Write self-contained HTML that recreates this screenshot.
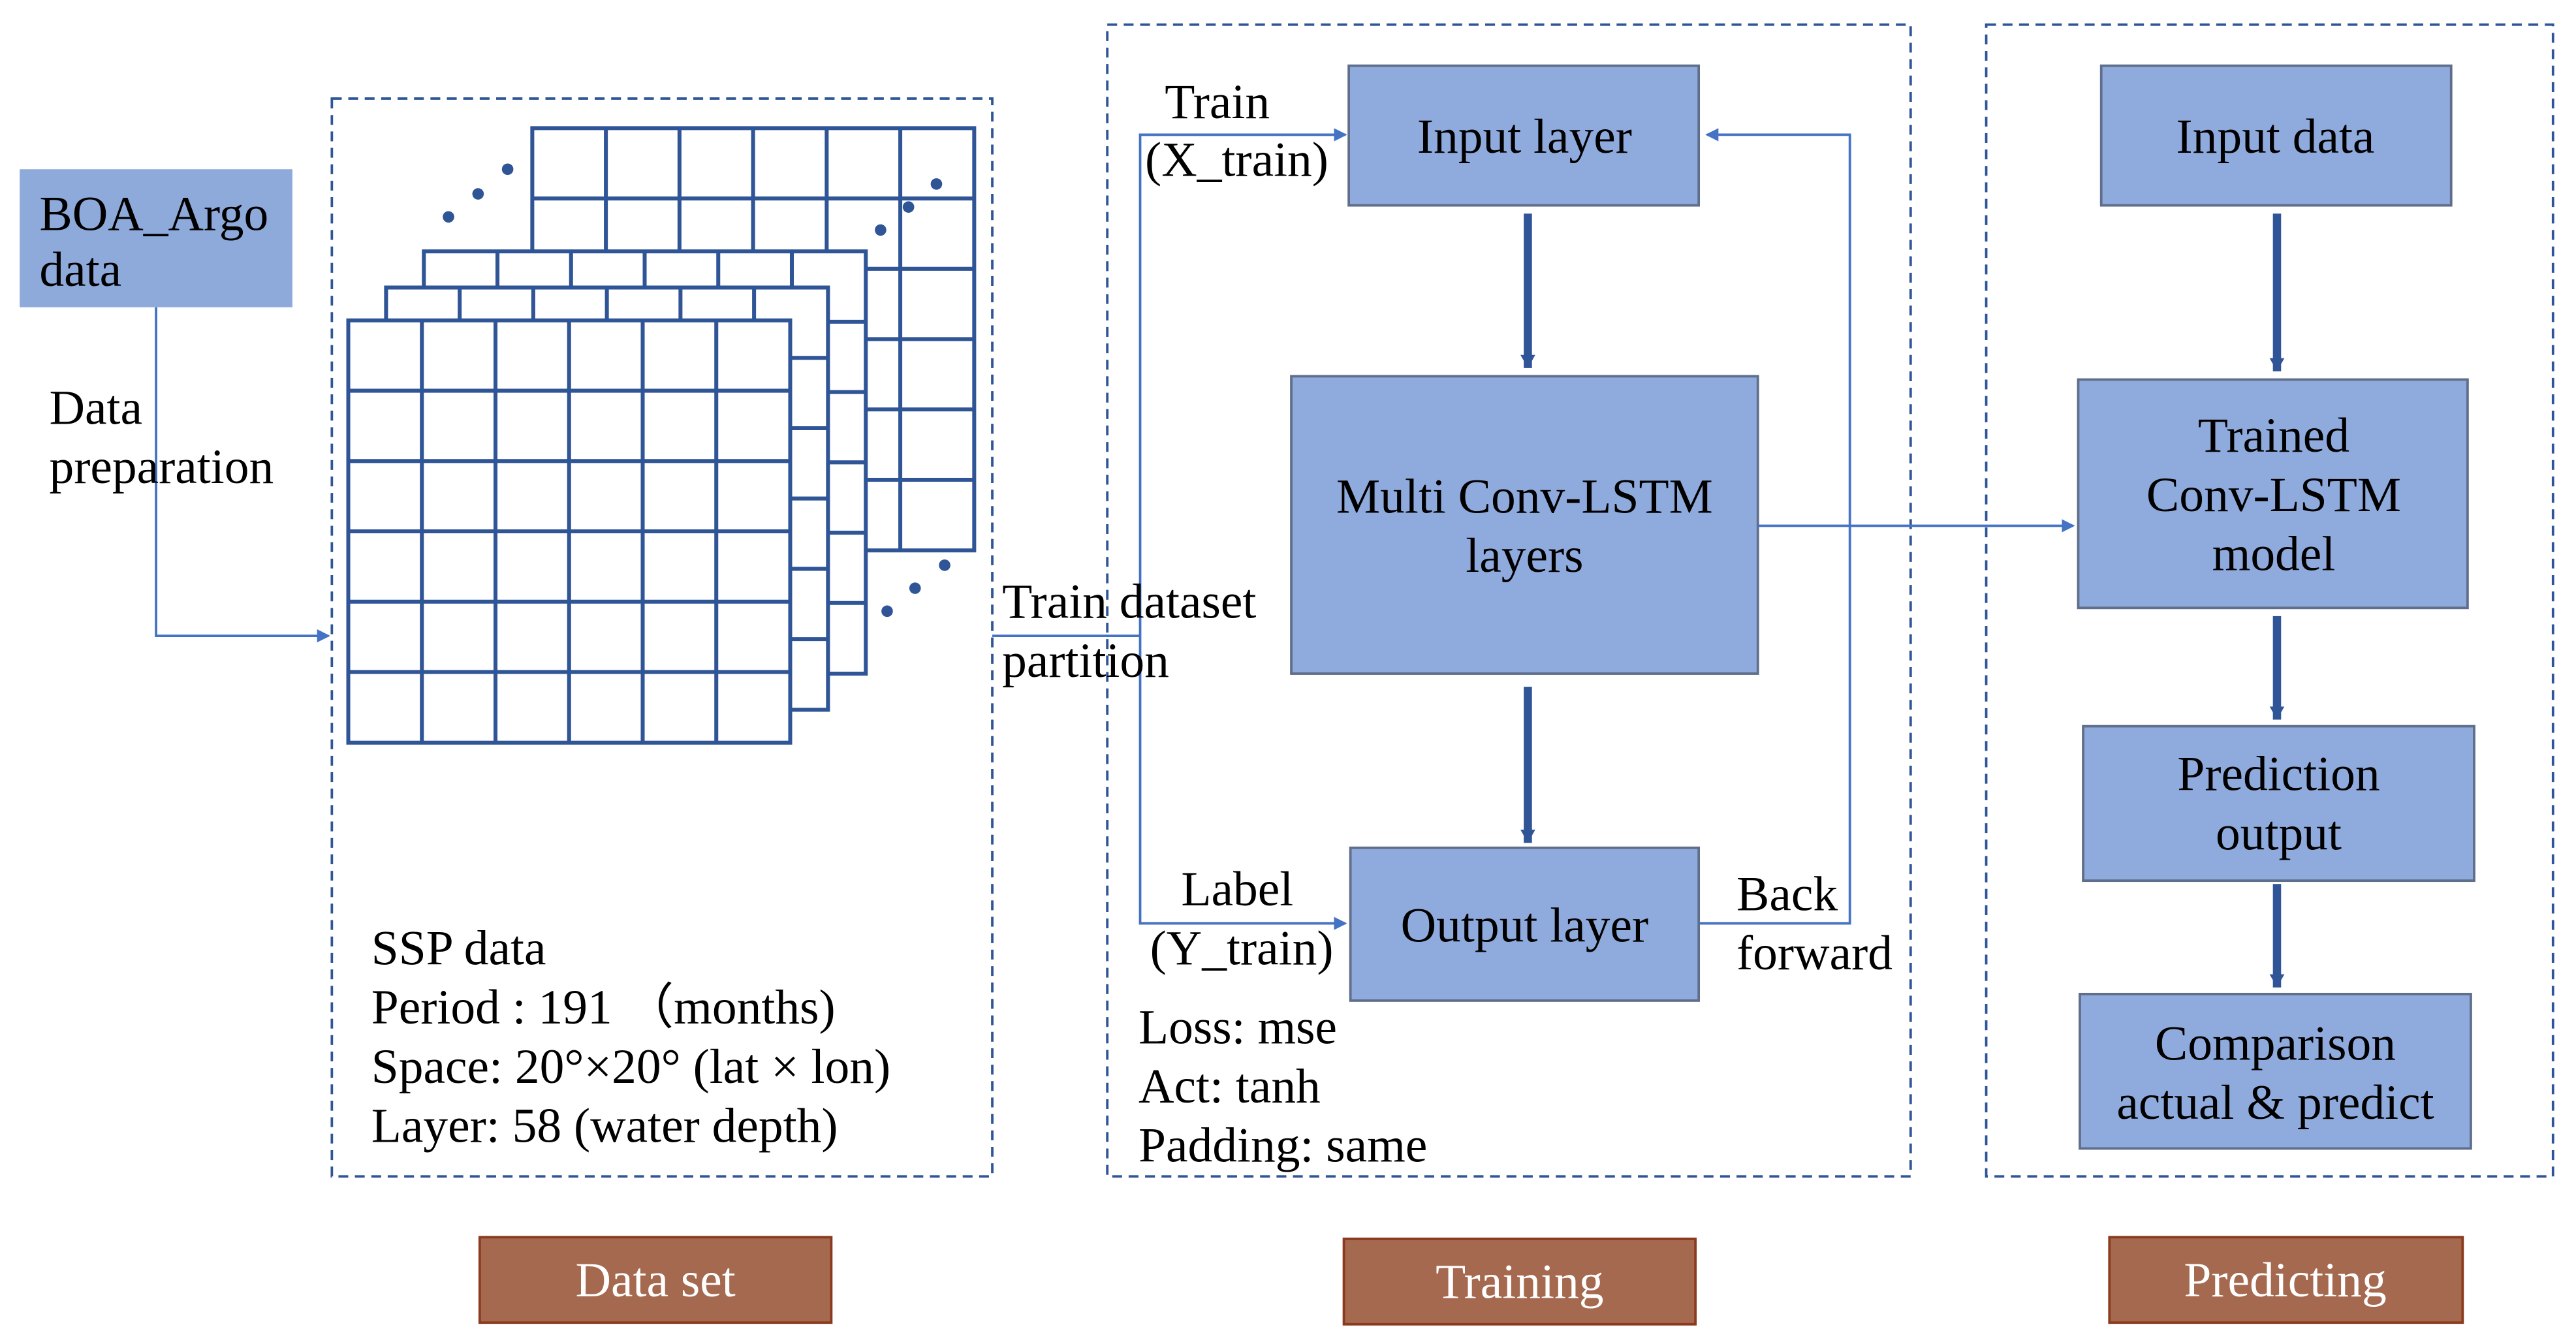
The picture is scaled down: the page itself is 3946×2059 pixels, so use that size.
<!DOCTYPE html>
<html><head><meta charset="utf-8"><style>
html,body{margin:0;padding:0;background:#fff;}
svg{display:block;}
text{font-family:"Liberation Serif",serif;font-size:30px;fill:#000;}
.c{text-anchor:middle;}
.w{fill:#fff;}
</style></head><body>
<svg width="3946" height="2059" viewBox="0 0 1568 818" preserveAspectRatio="none" xmlns="http://www.w3.org/2000/svg">
<defs>
<marker id="a" markerWidth="8" markerHeight="8" refX="7" refY="4" orient="auto" markerUnits="userSpaceOnUse"><path d="M0,0 L8,4 L0,8 z" fill="#4472C4"/></marker>
<marker id="t" markerWidth="10" markerHeight="10" refX="8" refY="5" orient="auto" markerUnits="userSpaceOnUse"><path d="M0,0.5 L8,5 L0,9.5 z" fill="#2F5597"/></marker>
<g id="grid">
<rect x="0" y="0" width="269" height="257" fill="#fff" stroke="#2F5597" stroke-width="2.4"/>
<path d="M44.8,0V257M89.6,0V257M134.4,0V257M179.2,0V257M224,0V257M0,42.8H269M0,85.6H269M0,128.4H269M0,171.2H269M0,214H269" stroke="#2F5597" stroke-width="2.4" fill="none"/>
</g>
</defs>
<g fill="none" stroke="#2F5597" stroke-width="1.5" stroke-dasharray="6 4">
<rect x="202" y="60" width="402" height="656"/>
<rect x="674" y="15" width="489" height="701"/>
<rect x="1209" y="15" width="345" height="701"/>
</g>
<rect x="12" y="103" width="166" height="84" fill="#8EAADB"/>
<text x="24" y="140">BOA_Argo</text>
<text x="24" y="174">data</text>
<path d="M95,187V387H200" stroke="#4472C4" stroke-width="1.5" fill="none" marker-end="url(#a)"/>
<text x="30" y="258">Data</text>
<text x="30" y="294">preparation</text>
<use href="#grid" x="324" y="78"/>
<use href="#grid" x="258" y="153"/>
<use href="#grid" x="235" y="175"/>
<use href="#grid" x="212" y="195"/>
<g fill="#2F5597">
<circle cx="273" cy="132" r="3.5"/><circle cx="291" cy="118" r="3.5"/><circle cx="309" cy="103" r="3.5"/>
<circle cx="536" cy="140" r="3.5"/><circle cx="553" cy="126" r="3.5"/><circle cx="570" cy="112" r="3.5"/>
<circle cx="540" cy="372" r="3.5"/><circle cx="557" cy="358" r="3.5"/><circle cx="575" cy="344" r="3.5"/>
</g>
<text x="226" y="587">SSP data</text>
<text x="226" y="623">Period : 191 （months)</text>
<text x="226" y="659">Space: 20°×20° (lat × lon)</text>
<text x="226" y="695">Layer: 58 (water depth)</text>
<path d="M604,387H694" stroke="#4472C4" stroke-width="1.5" fill="none"/>
<path d="M819,82H694V562H819" stroke="#4472C4" stroke-width="1.5" fill="none" marker-end="url(#a)"/>
<path d="M694,82H819" stroke="#4472C4" stroke-width="1.5" fill="none" marker-end="url(#a)"/>
<text x="610" y="376">Train dataset</text>
<text x="610" y="412">partition</text>
<text x="709" y="72">Train</text>
<text x="697" y="107">(X_train)</text>
<text x="719" y="551">Label</text>
<text x="700" y="587">(Y_train)</text>
<g fill="#8FAADC" stroke="#5F6E8A" stroke-width="1.5">
<rect x="821" y="40" width="213" height="85"/>
<rect x="786" y="229" width="284" height="181"/>
<rect x="822" y="516" width="212" height="93"/>
<rect x="1279" y="40" width="213" height="85"/>
<rect x="1265" y="231" width="237" height="139"/>
<rect x="1268" y="442" width="238" height="94"/>
<rect x="1266" y="605" width="238" height="94"/>
</g>
<text class="c" x="928" y="93">Input layer</text>
<text class="c" x="928" y="312">Multi Conv-LSTM</text>
<text class="c" x="928" y="348">layers</text>
<text class="c" x="928" y="573">Output layer</text>
<g stroke="#2F5597" stroke-width="5" fill="none">
<path d="M930,130V224" marker-end="url(#t)"/>
<path d="M930,418V513" marker-end="url(#t)"/>
<path d="M1386,130V226" marker-end="url(#t)"/>
<path d="M1386,375V438" marker-end="url(#t)"/>
<path d="M1386,538V601" marker-end="url(#t)"/>
</g>
<path d="M1034,562H1126V82H1039" stroke="#4472C4" stroke-width="1.5" fill="none" marker-end="url(#a)"/>
<text x="1057" y="554">Back</text>
<text x="1057" y="590">forward</text>
<text x="693" y="635">Loss: mse</text>
<text x="693" y="671">Act: tanh</text>
<text x="693" y="707">Padding: same</text>
<path d="M1070,320H1262" stroke="#4472C4" stroke-width="1.5" fill="none" marker-end="url(#a)"/>
<text class="c" x="1385" y="93">Input data</text>
<text class="c" x="1384" y="275">Trained</text>
<text class="c" x="1384" y="311">Conv-LSTM</text>
<text class="c" x="1384" y="347">model</text>
<text class="c" x="1387" y="481">Prediction</text>
<text class="c" x="1387" y="517">output</text>
<text class="c" x="1385" y="645">Comparison</text>
<text class="c" x="1385" y="681">actual &amp; predict</text>
<g fill="#A5694F" stroke="#8B3A1E" stroke-width="1.5">
<rect x="292" y="753" width="214" height="52"/>
<rect x="818" y="754" width="214" height="52"/>
<rect x="1284" y="753" width="215" height="52"/>
</g>
<text class="c w" x="399" y="789">Data set</text>
<text class="c w" x="925" y="790">Training</text>
<text class="c w" x="1391" y="789">Predicting</text>
</svg>
</body></html>
